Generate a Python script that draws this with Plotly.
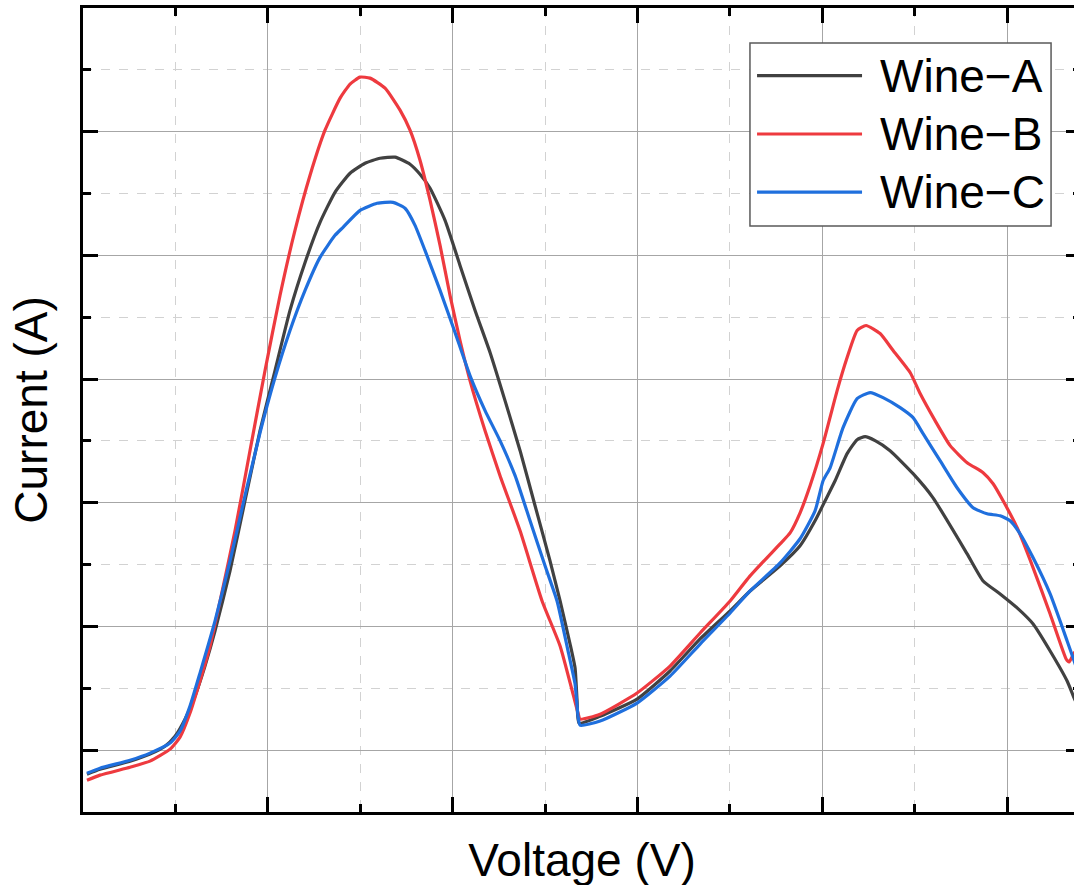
import plotly.graph_objects as go

# Voltammograms of three wine samples (voltage in mV, current in arbitrary units)
names = ["Wine\u2212A", "Wine\u2212B", "Wine\u2212C"]
colors = ["#414141", "#ee3a3f", "#1f6fdd"]

volt_a = [4.3, 18.4, 50.9, 72.5, 88.7, 99.6, 110.4, 121.2, 132.0, 142.9, 159.1, 175.3, 191.6, 207.8,
          224.0, 240.3, 256.5, 272.7, 289.0, 305.2, 321.4, 337.7, 353.9, 364.7, 375.6, 391.8, 408.0,
          424.3, 440.5, 456.7, 473.0, 489.2, 505.4, 516.3, 527.1, 532.5, 534.7, 536.8, 559.6, 599.6,
          635.3, 667.8, 700.3, 721.9, 754.4, 776.0, 792.2, 803.1, 813.9, 826.9, 837.7, 846.4, 857.2,
          873.4, 898.3, 919.9, 956.8, 974.1, 992.5, 1010.9, 1028.2, 1046.6, 1065.0, 1072.6, 1080.1]
curr_a = [-0.194, -0.154, -0.089, -0.032, 0.032, 0.113, 0.251, 0.437, 0.680, 0.964, 1.449, 2.016,
          2.583, 3.069, 3.555, 3.943, 4.267, 4.510, 4.664, 4.745, 4.785, 4.794, 4.737, 4.656, 4.543,
          4.283, 3.919, 3.555, 3.215, 2.826, 2.421, 1.976, 1.530, 1.206, 0.858, 0.664, 0.397, 0.219,
          0.275, 0.413, 0.640, 0.899, 1.126, 1.287, 1.490, 1.652, 1.854, 2.016, 2.178, 2.397, 2.510,
          2.534, 2.502, 2.421, 2.235, 2.040, 1.587, 1.368, 1.263, 1.150, 1.020, 0.802, 0.559, 0.421,
          0.300]

volt_b = [4.3, 18.4, 50.9, 72.5, 94.2, 105.0, 115.8, 126.6, 137.5, 148.3, 164.5, 180.7, 197.0, 213.2,
          229.4, 245.7, 261.9, 278.2, 289.0, 299.8, 310.6, 326.9, 343.1, 353.9, 364.7, 375.6, 386.4,
          397.2, 408.0, 418.8, 435.1, 451.3, 473.0, 496.8, 516.3, 530.3, 535.7, 537.9, 559.6, 599.6,
          635.3, 667.8, 700.3, 721.9, 754.4, 765.2, 776.0, 786.8, 800.9, 816.1, 826.9, 837.7, 847.4,
          862.6, 876.7, 895.1, 905.9, 922.1, 938.4, 956.8, 974.1, 984.9, 995.7, 1010.9, 1028.2,
          1046.6, 1063.9, 1067.1, 1072.6, 1080.1]
curr_b = [-0.243, -0.202, -0.138, -0.089, 0.008, 0.105, 0.300, 0.559, 0.842, 1.206, 1.773, 2.421,
          3.069, 3.676, 4.202, 4.648, 5.012, 5.271, 5.385, 5.441, 5.433, 5.352, 5.174, 5.012, 4.769,
          4.445, 4.081, 3.676, 3.312, 2.988, 2.583, 2.219, 1.773, 1.206, 0.842, 0.453, 0.300, 0.251,
          0.291, 0.462, 0.680, 0.947, 1.206, 1.409, 1.668, 1.757, 1.919, 2.138, 2.478, 2.907, 3.174,
          3.393, 3.433, 3.368, 3.231, 3.053, 2.883, 2.664, 2.462, 2.324, 2.243, 2.154, 2.016, 1.798,
          1.474, 1.101, 0.737, 0.713, 0.785, 0.842]

volt_c = [4.3, 18.4, 50.9, 72.5, 94.2, 105.0, 115.8, 126.6, 142.9, 159.1, 175.3, 191.6, 207.8, 224.0,
          240.3, 256.5, 272.7, 281.4, 299.8, 318.2, 335.5, 348.5, 359.3, 370.1, 386.4, 402.6, 418.8,
          435.1, 451.3, 467.6, 483.8, 500.0, 513.0, 524.9, 532.5, 535.7, 537.9, 559.6, 599.6, 635.3,
          667.8, 700.3, 721.9, 754.4, 776.0, 792.2, 800.9, 808.5, 822.5, 837.7, 851.8, 865.8, 884.3,
          898.3, 909.1, 927.5, 945.9, 963.2, 978.4, 992.5, 1003.3, 1014.1, 1028.2, 1046.6, 1065.0,
          1072.6, 1080.1]
curr_c = [-0.186, -0.146, -0.081, -0.024, 0.057, 0.154, 0.356, 0.623, 1.045, 1.530, 2.057, 2.567,
          3.012, 3.393, 3.717, 3.984, 4.162, 4.227, 4.364, 4.421, 4.429, 4.381, 4.243, 4.040, 3.717,
          3.377, 3.028, 2.745, 2.502, 2.219, 1.854, 1.490, 1.206, 0.802, 0.534, 0.275, 0.202, 0.235,
          0.381, 0.599, 0.858, 1.109, 1.287, 1.514, 1.709, 1.935, 2.178, 2.283, 2.607, 2.842, 2.891,
          2.850, 2.769, 2.688, 2.559, 2.340, 2.121, 1.960, 1.911, 1.895, 1.854, 1.749, 1.555, 1.263,
          0.883, 0.721, 0.559]

series = [(volt_a, curr_a), (volt_b, curr_b), (volt_c, curr_c)]

FONT = "Liberation Sans, Arial, sans-serif"
TXT = 46

fig = go.Figure()
for (vx, cy), name, col in zip(series, names, colors):
    fig.add_trace(go.Scatter(x=vx, y=cy, mode="lines", name=name,
                             line=dict(color=col, width=3.2, shape="spline", smoothing=0.5),
                             showlegend=False))

axis_common = dict(
    showticklabels=False, ticks="inside", ticklen=15, tickwidth=3, tickcolor="black",
    showline=True, linewidth=3, linecolor="black", mirror="ticks",
    showgrid=True, gridcolor="#a6a6a6", gridwidth=1, zeroline=False,
    title_font=dict(family=FONT, size=TXT, color="black"),
)

fig.update_xaxes(range=[0, 1080], dtick=200, tick0=0,
                 minor=dict(dtick=100, ticks="inside", ticklen=8, tickwidth=3, tickcolor="black",
                            showgrid=True, gridcolor="#d2d2d2", griddash="dash", gridwidth=1),
                 title=dict(text="Voltage (V)", standoff=30), automargin=False, **axis_common)
fig.update_yaxes(range=[-0.5, 6.0], dtick=1, tick0=0,
                 minor=dict(dtick=0.5, ticks="inside", ticklen=8, tickwidth=3, tickcolor="black",
                            showgrid=True, gridcolor="#d2d2d2", griddash="dash", gridwidth=1),
                 title=dict(text="Current (A)", standoff=18), automargin=False, **axis_common)

# Legend box with long sample lines
box_x0, box_x1, box_y0, box_y1 = 0.6683, 0.970, 0.7289, 0.9565
fig.add_shape(type="rect", xref="paper", yref="paper", x0=box_x0, x1=box_x1, y0=box_y0, y1=box_y1,
              line=dict(color="#5a5a5a", width=1.5), fillcolor="white", layer="above")
row_y = [0.9158, 0.8433, 0.7711]
for name, col, ry in zip(names, colors, row_y):
    fig.add_shape(type="line", xref="paper", yref="paper", x0=0.6754, x1=0.7806, y0=ry, y1=ry,
                  line=dict(color=col, width=3.2), layer="above")
    fig.add_annotation(xref="paper", yref="paper", x=0.7966, y=ry, text=name, showarrow=False,
                       xanchor="left", yanchor="middle",
                       font=dict(family=FONT, size=TXT, color="black"))

fig.update_layout(
    width=1100, height=900,
    margin=dict(l=83, r=19, t=8, b=88),
    paper_bgcolor="white", plot_bgcolor="white",
    font=dict(family=FONT, color="black"),
)

fig.write_html("out.html")
